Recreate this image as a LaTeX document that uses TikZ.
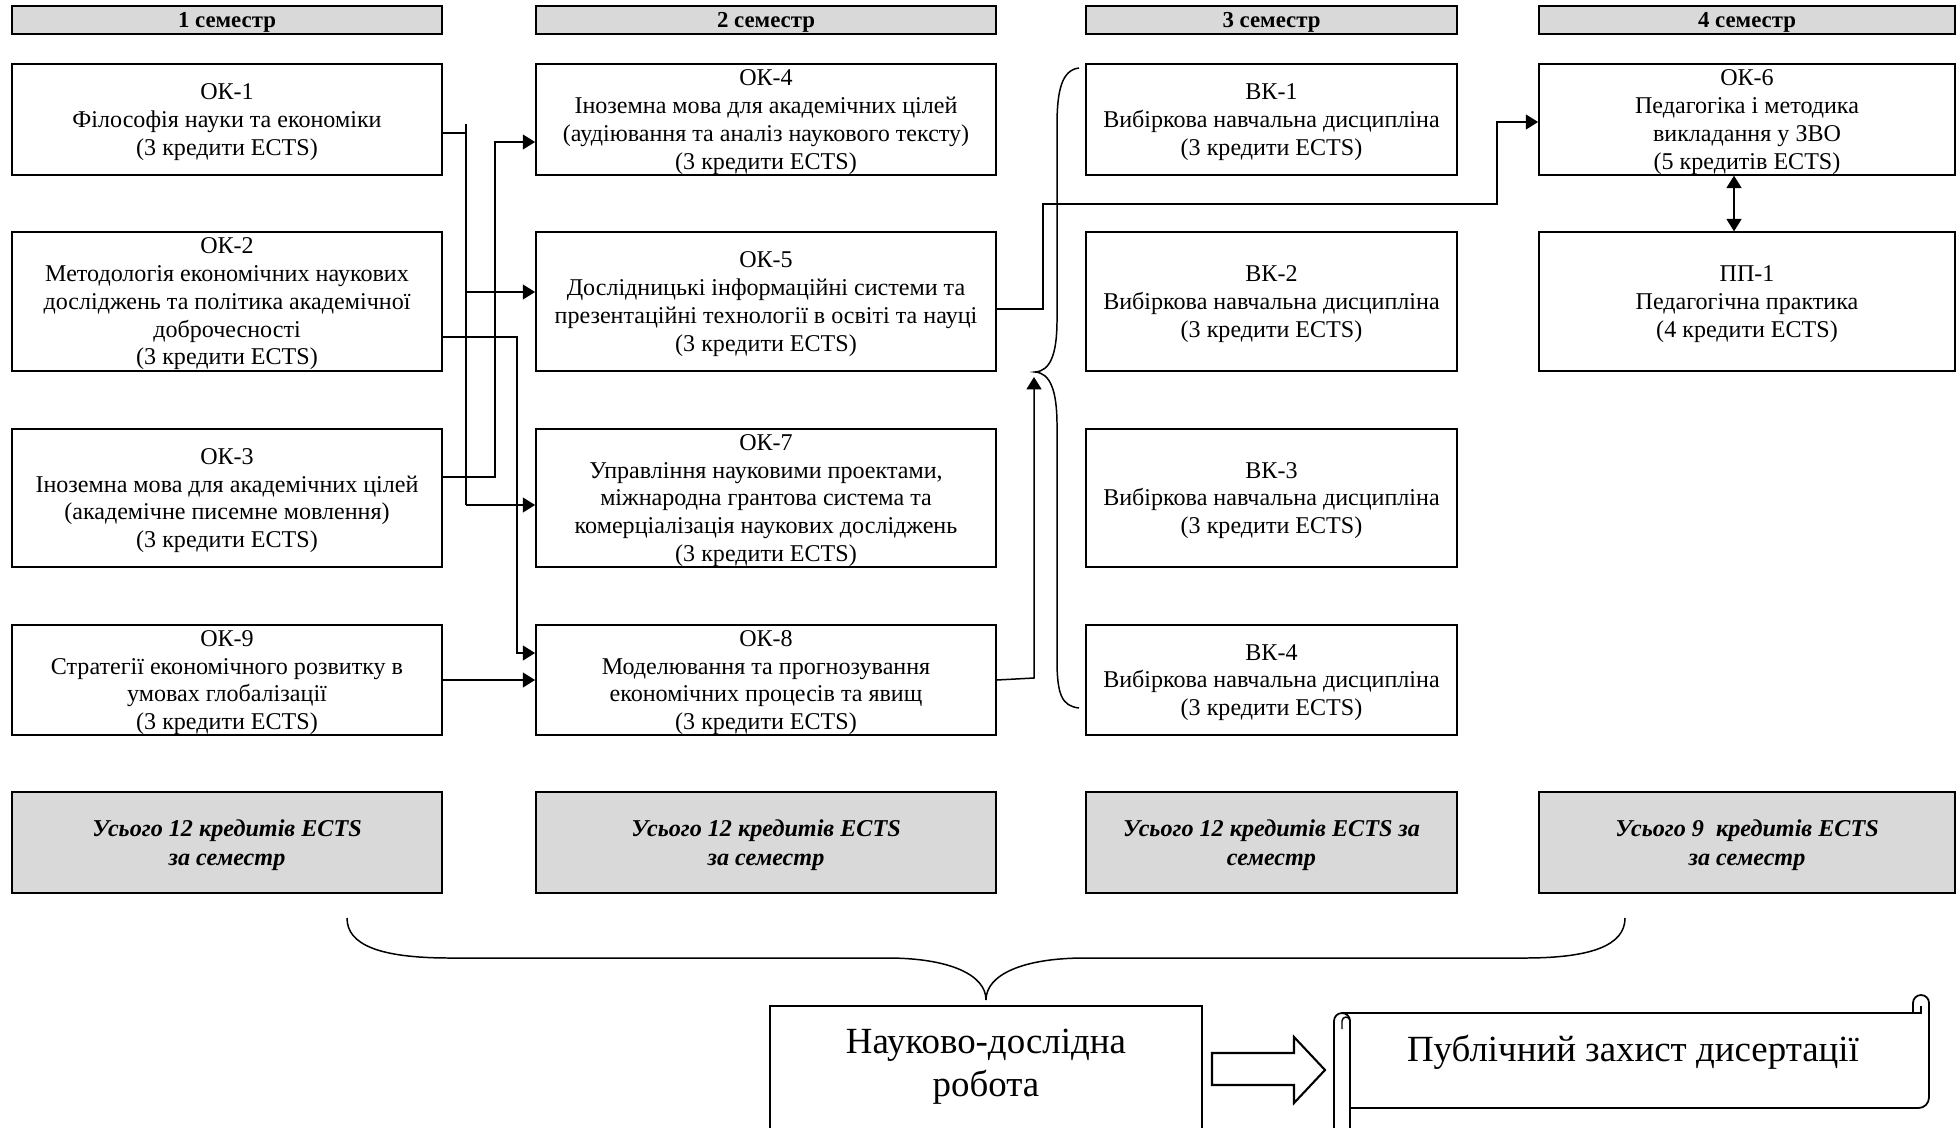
\documentclass[tikz,border=0pt]{standalone}
\usepackage{fontspec}
\setmainfont{Liberation Serif}
\usepackage{xcolor}
\definecolor{semgray}{RGB}{217,217,217}
\usetikzlibrary{arrows.meta,positioning,calc}
\tikzset{
  semhead/.style={draw, line width=1pt, fill=semgray, font=\bfseries\fontsize{13}{14}\selectfont,
                  minimum width=#1, minimum height=0.57cm, inner sep=0pt, text depth=-1.6pt},
  course/.style={draw, line width=1.1pt, font=\fontsize{13.7}{15.8}\selectfont, align=center,
                 minimum width=#1, inner sep=0.5pt, text depth=-1.8pt},
  rowa/.style={minimum height=2.21cm},
  rowb/.style={minimum height=2.77cm},
  total/.style={draw, line width=1.3pt, fill=semgray, font=\bfseries\itshape\fontsize{13.75}{16.3}\selectfont,
                align=center, minimum width=#1, minimum height=2.02cm, text depth=-1.8pt},
  bigtext/.style={font=\fontsize{21}{24.5}\selectfont, align=center, inner sep=0pt},
  link/.style={line width=0.85pt},
  arr/.style={link, -{Triangle[length=7pt,width=8.5pt]}},
  darr/.style={link, {Triangle[length=7pt,width=8.5pt]}-{Triangle[length=7pt,width=8.5pt]}},
}

\begin{document}
\begin{tikzpicture}[x=0.02cm, y=-0.02cm]
\useasboundingbox (0,0) rectangle (1959,1128);

% Semester headers
\node[semhead=8.6cm]  (h1) at (227,20)    {1 семестр};
\node[semhead=9.2cm]  (h2) at (766,20)    {2 семестр};
\node[semhead=7.42cm] (h3) at (1271.5,20) {3 семестр};
\node[semhead=8.32cm] (h4) at (1747,20)   {4 семестр};

% 1 semester
\node[course=8.6cm, rowa] (ok1) at (227,119.5) {ОК-1\\Філософія науки та економіки\\(3 кредити ECTS)};
\node[course=8.6cm, rowb] (ok2) at (227,301.5) {ОК-2\\Методологія економічних наукових\\досліджень та політика академічної\\доброчесності\\(3 кредити ECTS)};
\node[course=8.6cm, rowb] (ok3) at (227,498)   {ОК-3\\Іноземна мова для академічних цілей\\(академічне писемне мовлення)\\(3 кредити ECTS)};
\node[course=8.6cm, rowa] (ok9) at (227,680)   {ОК-9\\Стратегії економічного розвитку в\\умовах глобалізації\\(3 кредити ECTS)};

% 2 semester
\node[course=9.2cm, rowa] (ok4) at (766,119.5) {ОК-4\\Іноземна мова для академічних цілей\\(аудіювання та аналіз наукового тексту)\\(3 кредити ECTS)};
\node[course=9.2cm, rowb] (ok5) at (766,301.5) {ОК-5\\Дослідницькі інформаційні системи та\\презентаційні технології в освіті та науці\\(3 кредити ECTS)};
\node[course=9.2cm, rowb] (ok7) at (766,498)   {ОК-7\\Управління науковими проектами,\\міжнародна грантова система та\\комерціалізація наукових досліджень\\(3 кредити ECTS)};
\node[course=9.2cm, rowa] (ok8) at (766,680)   {ОК-8\\Моделювання та прогнозування\\економічних процесів та явищ\\(3 кредити ECTS)};

% 3 semester
\node[course=7.42cm, rowa] (vk1) at (1271.5,119.5) {ВК-1\\Вибіркова навчальна дисципліна\\(3 кредити ECTS)};
\node[course=7.42cm, rowb] (vk2) at (1271.5,301.5) {ВК-2\\Вибіркова навчальна дисципліна\\(3 кредити ECTS)};
\node[course=7.42cm, rowb] (vk3) at (1271.5,498)   {ВК-3\\Вибіркова навчальна дисципліна\\(3 кредити ECTS)};
\node[course=7.42cm, rowa] (vk4) at (1271.5,680)   {ВК-4\\Вибіркова навчальна дисципліна\\(3 кредити ECTS)};

% 4 semester
\node[course=8.32cm, rowa] (ok6) at (1747,119.5) {ОК-6\\Педагогіка і методика\\викладання у ЗВО\\(5 кредитів ECTS)};
\node[course=8.32cm, rowb] (pp1) at (1747,301.5) {ПП-1\\Педагогічна практика\\(4 кредити ECTS)};

% Totals
\node[total=8.6cm]  (t1) at (227,842.5)    {Усього 12 кредитів ECTS\\за семестр};
\node[total=9.2cm]  (t2) at (766,842.5)    {Усього 12 кредитів ECTS\\за семестр};
\node[total=7.42cm] (t3) at (1271.5,842.5) {Усього 12 кредитів ECTS за\\семестр};
\node[total=8.32cm] (t4) at (1747,842.5)   {Усього 9~ кредитів ECTS\\за семестр};

% Junctions
\coordinate (jA0) at (466,124);
\coordinate (jA1) at (466,133);
\coordinate (jA2) at (466,292);
\coordinate (jA3) at (466,505);
\coordinate (jB1) at (495,477);
\coordinate (jB2) at (495,142);
\coordinate (jC1) at (517,337);
\coordinate (jC2) at (517,653);
\coordinate (jD)  at (490,680);
\coordinate (j1) at (1043,309);
\coordinate (j2) at (1043,204);
\coordinate (j3) at (1497,204);
\coordinate (j4) at (1497,122);
\coordinate (k8) at (1034,678);
\coordinate (tip) at (1034,377);
\coordinate (m6) at (1734,200);

% Links between semesters
\draw[link] (ok1.east |- jA1) -- (jA1);
\draw[link] (jA0) -- (jA3);
\draw[arr] (jA2) -- (ok5.west |- jA2);
\draw[arr] (jA3) -- (ok7.west |- jA3);
\draw[arr] (ok3.east |- jB1) -- (jB1) -- (jB2) -- (ok4.west |- jB2);
\draw[arr] (ok2.east |- jC1) -- (jC1) -- (jC2) -- (ok8.west |- jC2);
\draw[arr] (ok9.east |- jD) -- (ok8.west |- jD);
\draw[arr] (ok5.east |- j1) -- (j1) -- (j2) -- (j3) -- (j4) -- (ok6.west |- j4);
\draw[arr] (ok8.east) -- (k8) -- (tip);
\draw[darr] (ok6.south -| m6) -- (pp1.north -| m6);

% Brace of electives
\draw[link] (1079,68) .. controls (1062,70) and (1057,90) .. (1057,125) -- (1057,320)
  .. controls (1057,355) and (1050,371) .. (1035,372)
  .. controls (1050,373) and (1057,390) .. (1057,425) -- (1057,660)
  .. controls (1057,695) and (1062,706) .. (1079,708);

% Brace of totals
\draw[link] (347,918) .. controls (347,945) and (380,958) .. (450,958) -- (887,958)
  .. controls (950,958) and (986,975) .. (986,1000)
  .. controls (986,975) and (1022,958) .. (1085,958) -- (1525,958)
  .. controls (1592,958) and (1625,945) .. (1625,918);

% Research work
\node[bigtext, minimum width=8.64cm, minimum height=2.41cm] (nr) at (986,1066.25) {Науково-дослідна\\робота};
\draw[line width=1.1pt] ([yshift=-1cm]nr.south west) -- (nr.north west) -- (nr.north east) -- ([yshift=-1cm]nr.south east);

% Block arrow
\draw[line width=1.2pt] (1212,1053) -- (1294,1053) -- (1294,1037) -- (1325,1070)
  -- (1294,1103) -- (1294,1085) -- (1212,1085) -- cycle;

% Scroll
\node[bigtext] (defense) at (1633,1052) {Публічний захист дисертації};
\draw[line width=1pt] (1342,1013) -- (1913,1013) -- (1913,1003) arc[start angle=180, end angle=360, radius=8];
\draw[line width=1pt] (1913,1013) -- (1921,1013) -- (1921,1006);
\draw[line width=1pt, rounded corners=6pt] (1929,1003) -- (1929,1108) -- (1350,1108);
\draw[line width=1pt] (1334,1140) -- (1334,1021) arc[start angle=180, end angle=360, radius=8] -- (1350,1140);
\draw[line width=0.8pt] (1342,1029) -- (1342,1021) arc[start angle=180, end angle=360, radius=4] -- (1350,1021);

\end{tikzpicture}
\end{document}
